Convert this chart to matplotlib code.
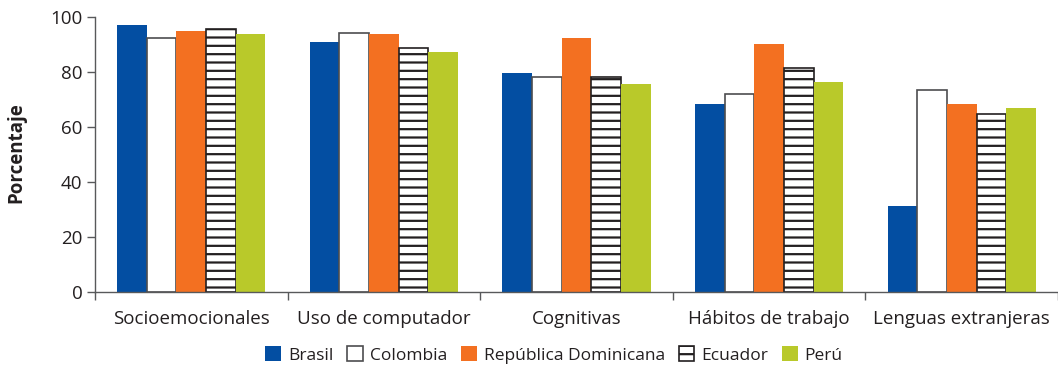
import matplotlib
matplotlib.use("Agg")
import matplotlib.pyplot as plt
import numpy as np

categories = ["Socioemocionales", "Uso de computador", "Cognitivas",
              "Hábitos de trabajo", "Lenguas extranjeras"]
series_names = ["Brasil", "Colombia", "República Dominicana", "Ecuador", "Perú"]
brasil = [97.1, 90.8, 79.5, 68.2, 31.2]
colombia = [92.5, 94.2, 78.3, 72.0, 73.3]
rep_dominicana = [94.8, 93.7, 92.2, 90.1, 68.5]
ecuador = [95.8, 88.6, 78.3, 81.3, 64.8]
peru = [93.7, 87.2, 75.6, 76.4, 67.0]
y_ticks = [0, 20, 40, 60, 80, 100]

plt.rcParams['font.family'] = ['Open Sans', 'DejaVu Sans']
plt.rcParams['hatch.linewidth'] = 1.6
text_color = "#231F20"
spine_color = "#58595B"

fig = plt.figure(figsize=(10.58, 3.66), dpi=100)
ax = fig.add_axes([95/1058, 1-292/366, 1-95/1058, (292-17)/366])

x = np.arange(len(categories))
w = 0.154
styles = [
    dict(color="#034EA2", edgecolor="#034EA2", linewidth=0),
    dict(color="white", edgecolor="#4D4D4F", linewidth=1.2),
    dict(color="#F37021", edgecolor="#F37021", linewidth=0),
    dict(color="white", edgecolor="#231F20", linewidth=1.2, hatch="--"),
    dict(color="#B9C92A", edgecolor="#B9C92A", linewidth=0),
]
data = [brasil, colombia, rep_dominicana, ecuador, peru]
for i, (vals, name, st) in enumerate(zip(data, series_names, styles)):
    ax.bar(x + (i - 2) * w, vals, width=w, label=name, **st)

ax.set_xlim(-0.5, 4.49)
ax.set_ylim(0, 100)
ax.set_yticks(y_ticks)
ax.set_xticks(x)
ax.set_xticklabels(categories)
ax.set_xticks(np.arange(-0.5, 4.6, 1.0), minor=True)
ax.tick_params(axis='x', which='major', length=0, pad=13, labelsize=13.5, labelcolor=text_color)
ax.tick_params(axis='x', which='minor', length=6, width=1, color=spine_color, direction='out')
ax.tick_params(axis='y', length=6, width=1, color=spine_color, labelsize=13.5, labelcolor=text_color, pad=3)
for s in ['top', 'right']:
    ax.spines[s].set_visible(False)
for s in ['left', 'bottom']:
    ax.spines[s].set_color(spine_color)
    ax.spines[s].set_linewidth(1.0)

fig.text(16/1058, 1-153/366, "Porcentaje", rotation=90, ha='center', va='center',
         fontsize=13.5, fontweight='bold', color=text_color)

handles, labels = ax.get_legend_handles_labels()
leg = fig.legend(handles, labels, loc='center', bbox_to_anchor=(554/1058, 1-355/366),
                 ncol=5, frameon=False, fontsize=12.5, handlelength=0.9, handleheight=0.9,
                 handletextpad=0.4, columnspacing=0.8, labelcolor=text_color,
                 borderaxespad=0, borderpad=0)

fig.savefig("out.png", dpi=100)
